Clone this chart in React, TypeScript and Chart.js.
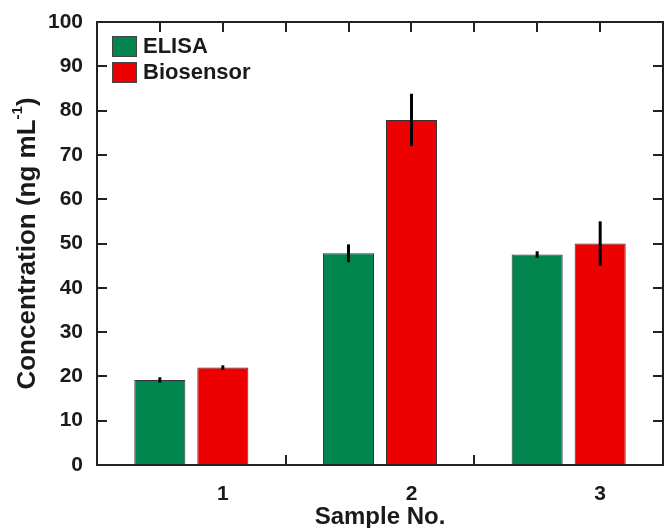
import { useEffect, useRef } from 'react';
import { Chart, registerables } from 'chart.js';

Chart.register(...registerables);

const categories = ['1', '2', '3'];
const seriesLabels = ['ELISA', 'Biosensor'];
const elisaValues = [19.2, 47.8, 47.5];
const elisaErrors = [0.6, 2.0, 0.75];
const biosensorValues = [22.0, 77.9, 50.0];
const biosensorErrors = [0.5, 5.9, 5.0];
const yMin = 0;
const yMax = 100;
const yStep = 10;
const xTitle = 'Sample No.';
const yTitleMain = 'Concentration (ng mL';
const yTitleSup = '-1';
const yTitleEnd = ')';

const FONT = "'Liberation Sans', Arial, Helvetica, sans-serif";
const GREEN = '#00854f';
const RED = '#ec0000';
const INK = '#1a1a1a';

const customPlugin = {
  id: 'customDecor',
  afterDatasetsDraw(chart: any) {
    const { ctx, chartArea: a, scales } = chart;
    const x = scales.x;
    const y = scales.y;
    ctx.save();
    // error bars
    ctx.strokeStyle = '#000';
    ctx.lineWidth = 3;
    ctx.lineCap = 'butt';
    chart.data.datasets.forEach((ds: any, di: number) => {
      const meta = chart.getDatasetMeta(di);
      meta.data.forEach((bar: any, i: number) => {
        const v = ds.data[i];
        const e = ds.errors[i];
        ctx.beginPath();
        ctx.moveTo(bar.x, y.getPixelForValue(v + e));
        ctx.lineTo(bar.x, y.getPixelForValue(v - e));
        ctx.stroke();
      });
    });
    // frame
    ctx.strokeStyle = '#222';
    ctx.lineWidth = 2;
    ctx.strokeRect(a.left, a.top, a.right - a.left, a.bottom - a.top);
    // y ticks (inward, both sides)
    const tl = 10;
    y.ticks.forEach((t: any) => {
      if (t.value <= yMin || t.value >= yMax) return;
      const py = Math.round(y.getPixelForValue(t.value));
      ctx.beginPath();
      ctx.moveTo(a.left, py);
      ctx.lineTo(a.left + tl, py);
      ctx.moveTo(a.right - tl, py);
      ctx.lineTo(a.right, py);
      ctx.stroke();
    });
    // bottom ticks at category boundaries
    for (let k = 0.5; k < categories.length - 1; k += 1) {
      const px = Math.round(x.getPixelForValue(k));
      ctx.beginPath();
      ctx.moveTo(px, a.bottom);
      ctx.lineTo(px, a.bottom - tl);
      ctx.stroke();
    }
    // top ticks every third of a category
    for (let k = 1; k < categories.length * 3; k += 1) {
      const px = Math.round(x.getPixelForValue(-0.5 + k / 3));
      ctx.beginPath();
      ctx.moveTo(px, a.top);
      ctx.lineTo(px, a.top + tl);
      ctx.stroke();
    }
    // legend
    const lx = a.left + 15;
    let ly = a.top + 14;
    ctx.font = `bold 22px ${FONT}`;
    ctx.textBaseline = 'middle';
    ctx.textAlign = 'left';
    chart.data.datasets.forEach((ds: any) => {
      ctx.fillStyle = ds.backgroundColor;
      ctx.fillRect(lx, ly, 25, 21);
      ctx.strokeStyle = '#444';
      ctx.lineWidth = 1;
      ctx.strokeRect(lx + 0.5, ly + 0.5, 24, 20);
      ctx.fillStyle = INK;
      ctx.fillText(ds.label, lx + 31, ly + 11);
      ly += 26;
    });
    // y title with superscript
    ctx.save();
    ctx.translate(28, (a.top + a.bottom) / 2);
    ctx.rotate(-Math.PI / 2);
    const mainFont = `bold 26px ${FONT}`;
    const supFont = `bold 15px ${FONT}`;
    ctx.font = mainFont;
    const w1 = ctx.measureText(yTitleMain).width;
    const w3 = ctx.measureText(yTitleEnd).width;
    ctx.font = supFont;
    const w2 = ctx.measureText(yTitleSup).width;
    const total = w1 + w2 + w3;
    let cx = -total / 2;
    ctx.fillStyle = INK;
    ctx.textBaseline = 'middle';
    ctx.font = mainFont;
    ctx.fillText(yTitleMain, cx, 0);
    cx += w1;
    ctx.font = supFont;
    ctx.fillText(yTitleSup, cx, -10);
    cx += w2;
    ctx.font = mainFont;
    ctx.fillText(yTitleEnd, cx, 0);
    ctx.restore();
    ctx.restore();
  },
};

export default function App() {
  const ref = useRef<HTMLCanvasElement | null>(null);
  useEffect(() => {
    if (!ref.current) return;
    const chart = new Chart(ref.current, {
      type: 'bar',
      data: {
        labels: categories,
        datasets: [
          {
            label: seriesLabels[0],
            data: elisaValues,
            errors: elisaErrors,
            backgroundColor: GREEN,
            borderColor: '#333',
            borderWidth: 1,
            barPercentage: 0.81,
            categoryPercentage: 0.668,
          } as any,
          {
            label: seriesLabels[1],
            data: biosensorValues,
            errors: biosensorErrors,
            backgroundColor: RED,
            borderColor: '#333',
            borderWidth: 1,
            barPercentage: 0.81,
            categoryPercentage: 0.668,
          } as any,
        ],
      },
      options: {
        animation: false,
        responsive: false,
        maintainAspectRatio: false,
        layout: { padding: { top: 22, right: 2, left: 0, bottom: 0 } },
        plugins: { legend: { display: false }, tooltip: { enabled: false } },
        scales: {
          x: {
            grid: { display: false, drawTicks: false },
            border: { display: false },
            ticks: {
              color: INK,
              font: { family: FONT, size: 21, weight: 'bold' },
              padding: 17,
              labelOffset: 31.5,
            },
            title: {
              display: true,
              text: xTitle,
              color: INK,
              font: { family: FONT, size: 24, weight: 'bold', lineHeight: 0.9 },
              padding: { top: 0, bottom: 0 },
            },
            afterFit: (s: any) => {
              s.height = 63;
              s.paddingLeft = 0;
              s.paddingRight = 0;
            },
          },
          y: {
            min: yMin,
            max: yMax,
            grid: { display: false, drawTicks: false },
            border: { display: false },
            ticks: {
              stepSize: yStep,
              color: INK,
              font: { family: FONT, size: 21, weight: 'bold' },
              padding: 14,
            },
            afterFit: (s: any) => {
              s.width = 97;
              s.paddingTop = 0;
              s.paddingBottom = 0;
            },
          },
        },
      },
      plugins: [customPlugin],
    });
    return () => chart.destroy();
  }, []);
  return (
    <div style={{ position: 'absolute', left: 0, top: 0, width: 665, height: 528, background: '#fff' }}>
      <canvas ref={ref} width={665} height={528} style={{ display: 'block' }} />
    </div>
  );
}
